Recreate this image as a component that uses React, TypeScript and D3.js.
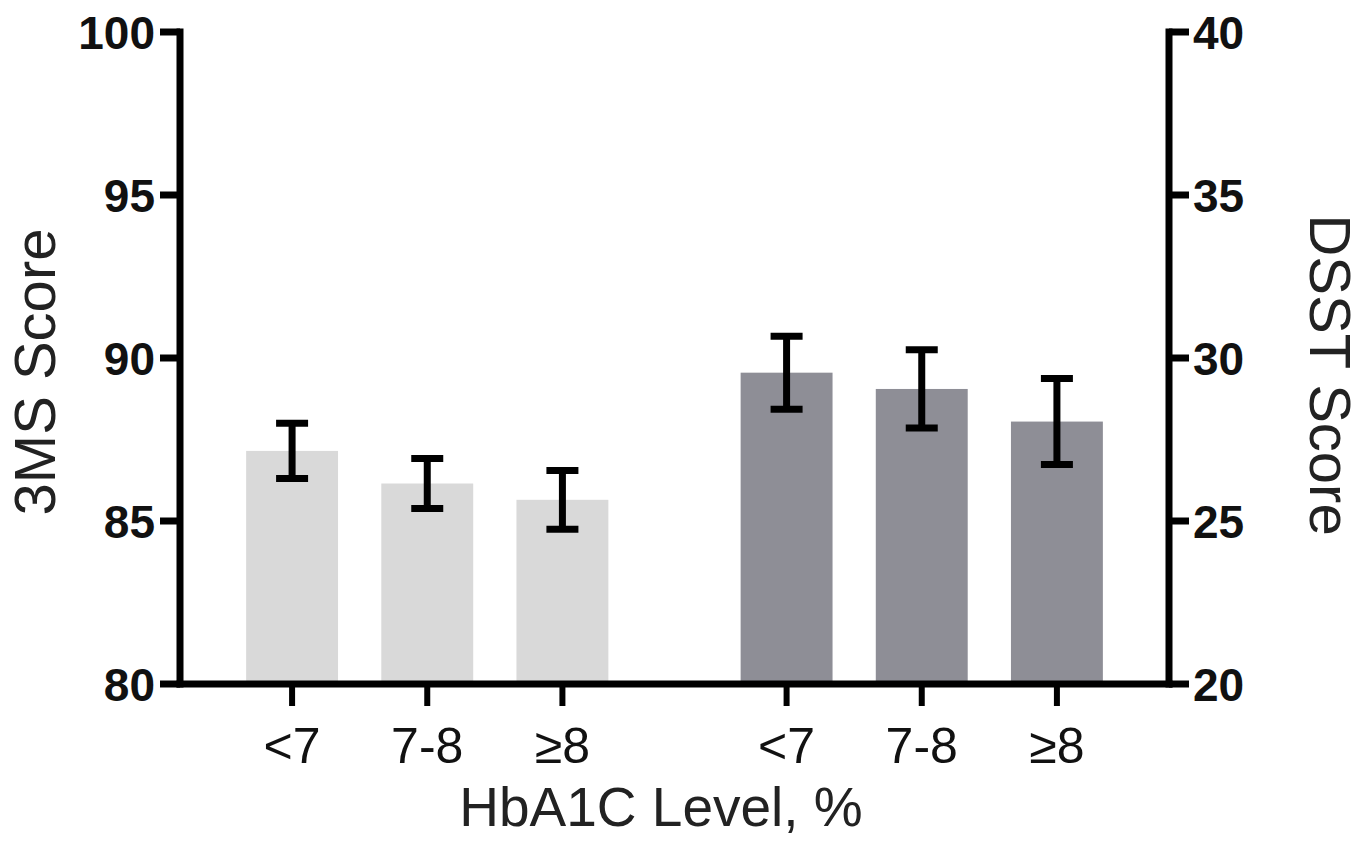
import { useRef, useEffect } from "react";
import * as d3 from "d3";

// HbA1C categories and the two cognitive scores
const CATEGORIES = ["<7", "7-8", "≥8"];
const GROUPS = ["3MS", "DSST"];

const MS3_MEAN = [87.15, 86.15, 85.65];
const MS3_ERR = [0.85, 0.77, 0.9];
const DSST_MEAN = [29.55, 29.05, 28.05];
const DSST_ERR = [1.12, 1.2, 1.32];

const LEFT_TICKS = [80, 85, 90, 95, 100];
const RIGHT_TICKS = [20, 25, 30, 35, 40];

const GROUP_COLORS = ["#d9d9d9", "#8e8e96"];

const W = 1369;
const H = 842;
const FONT = "'Liberation Sans', Arial, sans-serif";

export default function App() {
  const svgRef = useRef<SVGSVGElement>(null);

  useEffect(() => {
    if (!svgRef.current) return;
    const svg = d3.select(svgRef.current);
    svg.selectAll("*").remove();

    const left = 180;
    const right = 1169;
    const top = 32;
    const bottom = 684;

    const yLeft = d3.scaleLinear().domain([80, 100]).range([bottom, top]);
    const yRight = d3.scaleLinear().domain([20, 40]).range([bottom, top]);

    const xGroup = d3
      .scaleBand<string>()
      .domain(GROUPS)
      .range([left, right])
      .paddingInner(0.18)
      .paddingOuter(0.09);
    const xCat = d3
      .scaleBand<string>()
      .domain(CATEGORIES)
      .range([0, xGroup.bandwidth()])
      .paddingInner(0.32)
      .paddingOuter(0.16);

    const series = [
      { group: "3MS", mean: MS3_MEAN, err: MS3_ERR, y: yLeft },
      { group: "DSST", mean: DSST_MEAN, err: DSST_ERR, y: yRight },
    ];

    const capW = 32;
    const lw = 7;

    series.forEach((s, gi) => {
      const g = svg.append("g").attr("transform", `translate(${xGroup(s.group)},0)`);
      CATEGORIES.forEach((c, i) => {
        const x0 = xCat(c)!;
        const cx = x0 + xCat.bandwidth() / 2;
        g.append("rect")
          .attr("x", x0)
          .attr("y", s.y(s.mean[i]))
          .attr("width", xCat.bandwidth())
          .attr("height", bottom - s.y(s.mean[i]))
          .attr("fill", GROUP_COLORS[gi]);
        const hi = s.y(s.mean[i] + s.err[i]);
        const lo = s.y(s.mean[i] - s.err[i]);
        g.append("line")
          .attr("x1", cx).attr("x2", cx)
          .attr("y1", hi).attr("y2", lo)
          .attr("stroke", "#000").attr("stroke-width", lw);
        [hi, lo].forEach((yy) => {
          g.append("line")
            .attr("x1", cx - capW / 2).attr("x2", cx + capW / 2)
            .attr("y1", yy).attr("y2", yy)
            .attr("stroke", "#000").attr("stroke-width", lw);
        });
        // x tick
        g.append("line")
          .attr("x1", cx).attr("x2", cx)
          .attr("y1", bottom).attr("y2", bottom + 22)
          .attr("stroke", "#000").attr("stroke-width", 6);
        g.append("text")
          .attr("x", cx)
          .attr("y", 763)
          .attr("text-anchor", "middle")
          .style("font-family", FONT)
          .style("font-size", "50px")
          .attr("fill", "#111")
          .text(c);
      });
    });

    // left axis
    svg.append("line")
      .attr("x1", left).attr("x2", left)
      .attr("y1", top - 3.5).attr("y2", bottom + 3.5)
      .attr("stroke", "#000").attr("stroke-width", lw);
    LEFT_TICKS.forEach((t) => {
      svg.append("line")
        .attr("x1", left - 20).attr("x2", left)
        .attr("y1", yLeft(t)).attr("y2", yLeft(t))
        .attr("stroke", "#000").attr("stroke-width", lw);
      svg.append("text")
        .attr("x", left - 25)
        .attr("y", yLeft(t))
        .attr("dy", "0.36em")
        .attr("text-anchor", "end")
        .style("font-family", FONT)
        .style("font-size", "46px")
        .style("font-weight", "700")
        .attr("fill", "#111")
        .text(t);
    });

    // right axis
    svg.append("line")
      .attr("x1", right).attr("x2", right)
      .attr("y1", top - 3.5).attr("y2", bottom + 3.5)
      .attr("stroke", "#000").attr("stroke-width", lw);
    RIGHT_TICKS.forEach((t) => {
      svg.append("line")
        .attr("x1", right).attr("x2", right + 20)
        .attr("y1", yRight(t)).attr("y2", yRight(t))
        .attr("stroke", "#000").attr("stroke-width", lw);
      svg.append("text")
        .attr("x", right + 24)
        .attr("y", yRight(t))
        .attr("dy", "0.36em")
        .attr("text-anchor", "start")
        .style("font-family", FONT)
        .style("font-size", "46px")
        .style("font-weight", "700")
        .attr("fill", "#111")
        .text(t);
    });

    // bottom axis
    svg.append("line")
      .attr("x1", left - 3.5).attr("x2", right + 3.5)
      .attr("y1", bottom).attr("y2", bottom)
      .attr("stroke", "#000").attr("stroke-width", lw);

    // titles
    svg.append("text")
      .attr("transform", `translate(55,372) rotate(-90)`)
      .attr("text-anchor", "middle")
      .style("font-family", FONT)
      .style("font-size", "58px")
      .attr("fill", "#222")
      .text("3MS Score");

    svg.append("text")
      .attr("transform", `translate(1310,375) rotate(90)`)
      .attr("text-anchor", "middle")
      .style("font-family", FONT)
      .style("font-size", "58px")
      .attr("fill", "#222")
      .text("DSST Score");

    svg.append("text")
      .attr("x", 661)
      .attr("y", 826)
      .attr("text-anchor", "middle")
      .style("font-family", FONT)
      .style("font-size", "55px")
      .attr("fill", "#222")
      .text("HbA1C Level, %");
  }, []);

  return (
    <svg
      ref={svgRef}
      width={W}
      height={H}
      style={{ position: "absolute", left: 0, top: 0, background: "#fff" }}
    />
  );
}
